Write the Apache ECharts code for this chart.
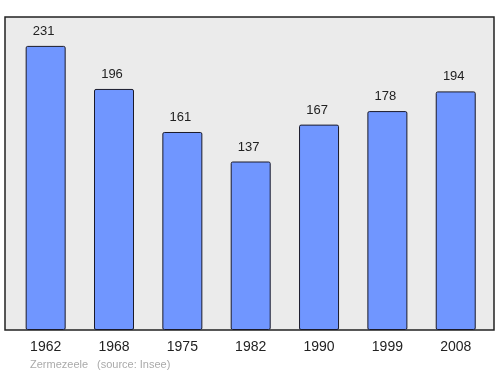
<!DOCTYPE html>
<html>
<head>
<meta charset="utf-8">
<script src="https://cdn.jsdelivr.net/npm/echarts@6/dist/echarts.min.js"></script>
<style>html,body{margin:0;padding:0;background:#fff;}#c{width:500px;height:374px;}</style>
</head>
<body>
<div id="c"></div>
<script>
var years = ['1962', '1968', '1975', '1982', '1990', '1999', '2008'];
var population = [231, 196, 161, 137, 167, 178, 194];
var footerPlace = 'Zermezeele';
var footerSource = '(source: Insee)';

var FONT = 'Liberation Sans, Arial, sans-serif';
var chart = echarts.init(document.getElementById('c'), null, {renderer: 'canvas'});
var indices = years.map(function (y, i) { return i; });
chart.setOption({
  animation: false,
  backgroundColor: '#ffffff',
  grid: {
    left: 5, top: 17, width: 489, height: 313,
    show: true, backgroundColor: '#ebebeb', borderColor: '#222', borderWidth: 1.5,
    containLabel: false
  },
  xAxis: {
    type: 'value', min: -0.595, max: 6.56,
    axisLine: {show: false}, axisTick: {show: false}, splitLine: {show: false},
    axisLabel: {
      customValues: indices,
      formatter: function (v) { return years[Math.round(v)]; },
      fontFamily: FONT, fontSize: 14, color: '#222', margin: 10
    }
  },
  yAxis: {
    type: 'value', min: 0, max: 254.5,
    axisLine: {show: false}, axisTick: {show: false}, splitLine: {show: false}, axisLabel: {show: false}
  },
  series: [{
    type: 'bar',
    barWidth: 40,
    data: population.map(function (v, i) { return [i, v]; }),
    itemStyle: {color: '#7096ff', borderColor: '#1a1a2a', borderWidth: 1, borderRadius: 1.5},
    label: {
      show: true, position: 'top', distance: 8, offset: [-2, 0],
      formatter: function (p) { return p.value[1]; },
      fontFamily: FONT, fontSize: 13, color: '#222'
    }
  }],
  graphic: [{
    type: 'text', left: 30, top: 359,
    style: {text: footerPlace, fill: '#aaaaaa', fontSize: 11, fontFamily: FONT}
  }, {
    type: 'text', left: 97, top: 359,
    style: {text: footerSource, fill: '#aaaaaa', fontSize: 11, fontFamily: FONT}
  }]
});
</script>
</body>
</html>
